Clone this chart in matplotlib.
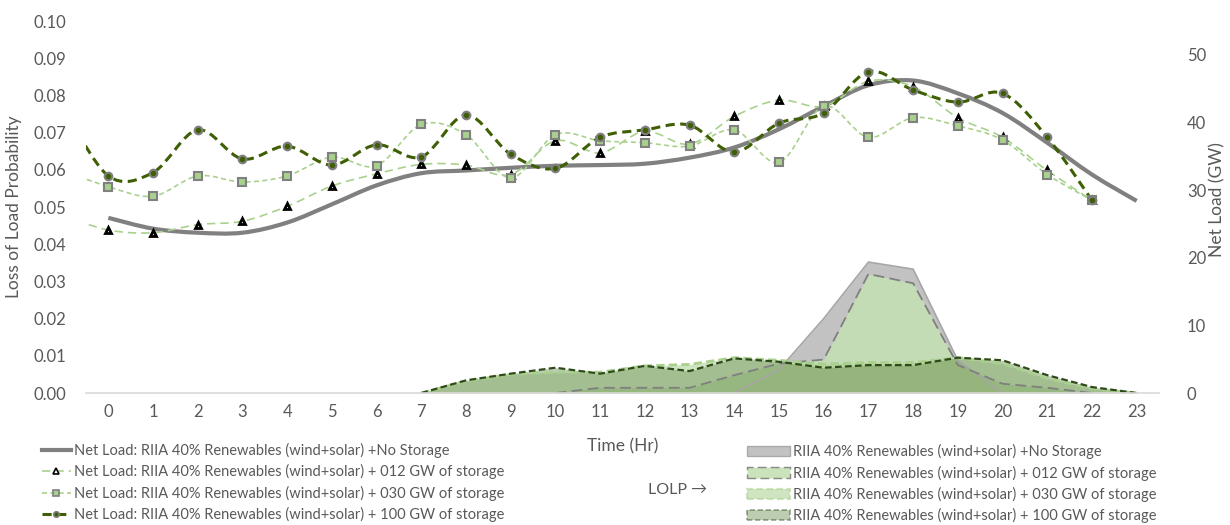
import numpy as np
import matplotlib.pyplot as plt
from matplotlib.path import Path
from matplotlib.patches import PathPatch, Patch
from matplotlib.lines import Line2D

plt.rcParams['font.family'] = ['Lato', 'DejaVu Sans']
TXT = '#595959'

# hours of the day
hours = list(range(24))
# storage runs carry one extra point at hour -1 (sits off the left edge, clipped)
hours_st = list(range(-1, 23))

# net load (GW), right axis
net_load_none = [25.9, 24.3, 23.7, 23.7, 25.2, 27.9, 30.7, 32.5, 32.9, 33.3, 33.6, 33.7,
                 33.9, 34.8, 36.3, 39.0, 42.4, 45.5, 46.2, 44.3, 41.4, 37.0, 32.3, 28.4]
net_load_012 = [26.2, 24.1, 23.7, 24.9, 25.4, 27.6, 30.6, 32.4, 33.8, 33.7, 32.3, 37.3,
                35.5, 38.7, 36.8, 40.9, 43.3, 42.4, 46.1, 45.3, 40.7, 37.8, 32.9, 28.5]
net_load_030 = [32.9, 30.5, 29.1, 32.1, 31.2, 32.1, 34.9, 33.6, 39.7, 38.2, 31.8, 38.2,
                37.3, 37.0, 36.5, 38.9, 34.1, 42.4, 37.8, 40.7, 39.5, 37.4, 32.3, 28.5]
net_load_100 = [42.2, 32.1, 32.6, 38.9, 34.6, 36.5, 33.7, 36.7, 34.9, 41.1, 35.3, 33.2,
                37.8, 38.9, 39.6, 35.6, 39.9, 41.4, 47.5, 44.8, 43.0, 44.3, 37.8, 28.5]

# loss of load probability, left axis
lolp_none = [0, 0, 0, 0, 0, 0, 0, 0, 0, 0, 0, 0, 0, 0, 0.0, 0.0063, 0.0200, 0.0352,
             0.0333, 0.0088, 0, 0, 0, 0]
lolp_012 = [0, 0, 0, 0, 0, 0, 0, 0, 0, 0, 0, 0.0014, 0.0014, 0.0014, 0.0048, 0.0079,
            0.0090, 0.0320, 0.0295, 0.0075, 0.0025, 0.0014, 0, 0]
lolp_030 = [0, 0, 0, 0, 0, 0, 0, 0, 0.0032, 0.0050, 0.0056, 0.0056, 0.0073, 0.0077,
            0.0095, 0.0088, 0.0078, 0.0082, 0.0082, 0.0095, 0.0079, 0.0039, 0.0012, 0]
lolp_100 = [0, 0, 0, 0, 0, 0, 0, 0, 0.0034, 0.0052, 0.0068, 0.0052, 0.0073, 0.0059,
            0.0093, 0.0084, 0.0068, 0.0075, 0.0075, 0.0095, 0.0088, 0.0048, 0.0016, 0]

line_labels = ['Net Load: RIIA 40% Renewables (wind+solar) +No Storage',
               'Net Load: RIIA 40% Renewables (wind+solar) + 012 GW of storage',
               'Net Load: RIIA 40% Renewables (wind+solar) + 030 GW of storage',
               'Net Load: RIIA 40% Renewables (wind+solar) + 100 GW of storage']
area_labels = ['RIIA 40% Renewables (wind+solar) +No Storage',
               'RIIA 40% Renewables (wind+solar) + 012 GW of storage',
               'RIIA 40% Renewables (wind+solar) + 030 GW of storage',
               'RIIA 40% Renewables (wind+solar) + 100 GW of storage']


def smooth_path(x, y):
    # excel-style smoothed line: cubic bezier through every point
    x = np.asarray(x, float)
    y = np.asarray(y, float)
    n = len(x)
    verts = [(x[0], y[0])]
    codes = [Path.MOVETO]
    for i in range(n - 1):
        p0 = np.array([x[max(i - 1, 0)], y[max(i - 1, 0)]])
        p1 = np.array([x[i], y[i]])
        p2 = np.array([x[i + 1], y[i + 1]])
        p3 = np.array([x[min(i + 2, n - 1)], y[min(i + 2, n - 1)]])
        c1 = p1 + (p2 - p0) / 6
        c2 = p2 - (p3 - p1) / 6
        verts += [tuple(c1), tuple(c2), tuple(p2)]
        codes += [Path.CURVE4] * 3
    return Path(verts, codes)


fig = plt.figure(figsize=(12.3, 5.25), dpi=100)
ax = fig.add_axes([0.0699, 0.2514, 0.8724, 0.7086])
ax2 = ax.twinx()

# --- LOLP areas ---
areas = [
    (lolp_none, '#bfbfbf', 0.95, '#a6a6a6', '-', 1.2),
    (lolp_012, '#c5e0b4', 0.9, '#7f7f7f', (0, (6, 3)), 1.3),
    (lolp_030, '#a9d18e', 0.55, '#a9d18e', (0, (3, 1.5)), 2.0),
    (lolp_100, '#6f8f55', 0.45, '#2f4a1a', (0, (3, 1.5)), 1.6),
]
for vals, fc, a, ec, ls, lw in areas:
    v = np.array(vals, float)
    ax.fill_between(hours, v, color=fc, alpha=a, lw=0)
    # skip the outline where the area sits flat on zero
    keep = np.convolve(v > 0, [1, 1, 1], mode='same') > 0
    ax.plot(hours, np.where(keep, v, np.nan), color=ec, ls=ls, lw=lw)

# --- net load lines ---
lines = [
    (hours, net_load_none, '#808080', '-', 3.0, None, None, None),
    (hours_st, net_load_012, '#a9d18e', (0, (5, 3)), 1.2, '^', 'white', 'black'),
    (hours_st, net_load_030, '#a9d18e', (0, (3, 2)), 1.2, 's', '#a9d18e', '#808080'),
    (hours_st, net_load_100, '#3f5f05', (0, (3, 1.8)), 2.2, 'o', '#3f5f05', '#808080'),
]
for x, y, c, ls, lw, m, mfc, mec in lines:
    ax2.add_patch(PathPatch(smooth_path(x, y), fill=False, edgecolor=c, ls=ls, lw=lw,
                            capstyle='butt'))
    if m:
        ms, mew = (5.0, 2.0) if m == '^' else (5.5, 1.5)
        ax2.plot(x, y, ls='none', marker=m, ms=ms, mfc=mfc, mec=mec, mew=mew)

ax.set_xlim(-0.5, 23.5)
ax.set_ylim(0, 0.10)
ax2.set_ylim(0, 55)
ax.set_xticks(hours)
ax.set_yticks(np.arange(0, 0.101, 0.01))
ax.yaxis.set_major_formatter(plt.FormatStrFormatter('%.2f'))
ax2.set_yticks(range(0, 51, 10))

for a in (ax, ax2):
    for s in a.spines.values():
        s.set_visible(False)
    a.tick_params(length=0, colors=TXT, labelsize=12)
ax.spines['bottom'].set_visible(True)
ax.spines['bottom'].set_color('#d9d9d9')
ax.spines['bottom'].set_linewidth(1.2)
ax.tick_params(axis='y', pad=14)
ax.tick_params(axis='x', pad=8)
ax2.tick_params(axis='y', pad=20)

ax.set_xlabel('Time (Hr)', color=TXT, fontsize=12.5, labelpad=13)
ax.set_ylabel('Loss of Load Probability', color=TXT, fontsize=12.5)
ax.yaxis.set_label_coords(-0.06, 0.5)
ax2.set_ylabel('Net Load (GW)', color=TXT, fontsize=12.5)
ax2.yaxis.set_label_coords(1.047, 0.52)

# legends
h_lines = [Line2D([], [], color=c, ls=ls, lw=lw, marker=m, ms=4, mfc=mfc, mec=mec, mew=1.2)
           for _, _, c, ls, lw, m, mfc, mec in lines]
fig.legend(h_lines, line_labels, loc='upper left', bbox_to_anchor=(0.034, 0.156),
           frameon=False, fontsize=10.5, labelcolor=TXT, handlelength=2.0,
           handletextpad=0.2, labelspacing=0.43, borderpad=0, borderaxespad=0)

h_areas = [Patch(facecolor=fc, alpha=a, edgecolor=ec, ls=ls, lw=lw * 0.8)
           for _, fc, a, ec, ls, lw in areas]
fig.legend(h_areas, area_labels, loc='upper left', bbox_to_anchor=(0.607, 0.154),
           frameon=False, fontsize=10.5, labelcolor=TXT, handlelength=3.0,
           handleheight=0.7, handletextpad=0.15, labelspacing=0.43, borderpad=0,
           borderaxespad=0)

fig.text(0.527, 0.06, 'LOLP \u2192', color=TXT, fontsize=11.5)

fig.savefig('out.png', dpi=100)
